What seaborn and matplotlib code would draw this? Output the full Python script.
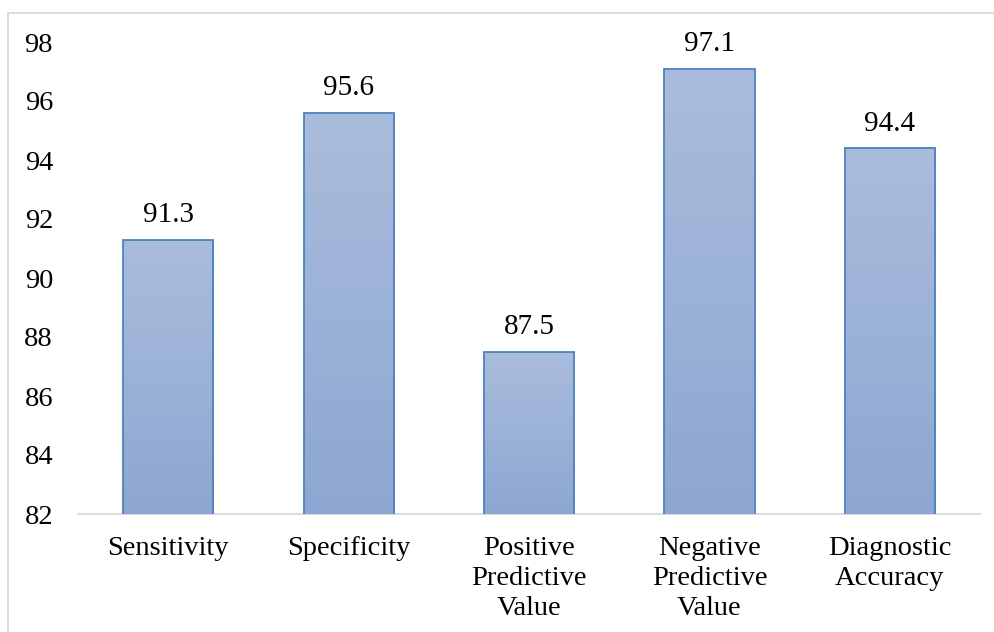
import numpy as np
import pandas as pd
import matplotlib
matplotlib.use("Agg")
import matplotlib.pyplot as plt
import matplotlib.patches as mpatches
import seaborn as sns

categories = ["Sensitivity", "Specificity", "Positive\nPredictive\nValue",
              "Negative\nPredictive\nValue", "Diagnostic\nAccuracy"]
values = [91.3, 95.6, 87.5, 97.1, 94.4]
yticks = [82, 84, 86, 88, 90, 92, 94, 96, 98]

sns.set_theme(style="white")
plt.rcParams["font.family"] = ["Liberation Serif", "DejaVu Serif"]

df = pd.DataFrame({"metric": categories, "value": values})

fig = plt.figure(figsize=(9.95, 6.32), dpi=100)
ax = fig.add_axes([78 / 995, 118 / 632, 902 / 995, (514 - 42) / 632])

sns.barplot(data=df, x="metric", y="value", ax=ax, width=0.5,
            color="#9DB2D8", edgecolor="#4F81BD", linewidth=1.3)

ax.set_ylim(82, 98)
ax.set_yticks(yticks)
ax.set_xlabel("")
ax.set_ylabel("")

# vertical gradient fill inside each bar
top_c = np.array([170, 188, 220]) / 255
bot_c = np.array([141, 167, 210]) / 255
grad = np.linspace(0, 1, 256)[:, None]
img = top_c[None, None, :] * (1 - grad[..., None]) + bot_c[None, None, :] * grad[..., None]
for patch in ax.patches:
    x0, y0 = patch.get_x(), patch.get_y()
    w, h = patch.get_width(), patch.get_height()
    patch.set_facecolor("none")
    im = ax.imshow(img, extent=[x0, x0 + w, 82, y0 + h], aspect="auto",
                   origin="upper", zorder=patch.get_zorder() - 0.1)
    im.set_clip_path(patch)
    ax.annotate(f"{h:.1f}", (x0 + w / 2, y0 + h), xytext=(0, 12.5),
                textcoords="offset points", ha="center", va="baseline",
                fontsize=21, color="black")

ax.set_xlim(-0.5, len(categories) - 0.5)
ax.set_ylim(82, 98)

for side in ["top", "right", "left"]:
    ax.spines[side].set_visible(False)
ax.spines["bottom"].set_color("#D9D9D9")
ax.spines["bottom"].set_linewidth(1.3)
ax.spines["bottom"].set_zorder(0)

ax.tick_params(axis="both", length=0, labelsize=20.5, colors="black")
ax.tick_params(axis="y", pad=18)
ax.tick_params(axis="x", pad=16)
for lab in ax.get_xticklabels():
    lab.set_linespacing(1.27)

# chart area border
fig.patches.append(mpatches.Rectangle((8 / 995, -0.01), 1.0, 1 - 13 / 632 + 0.01,
                                      transform=fig.transFigure, fill=False,
                                      edgecolor="#D9D9D9", linewidth=1.3))

fig.savefig("out.png", dpi=100, facecolor="white")
